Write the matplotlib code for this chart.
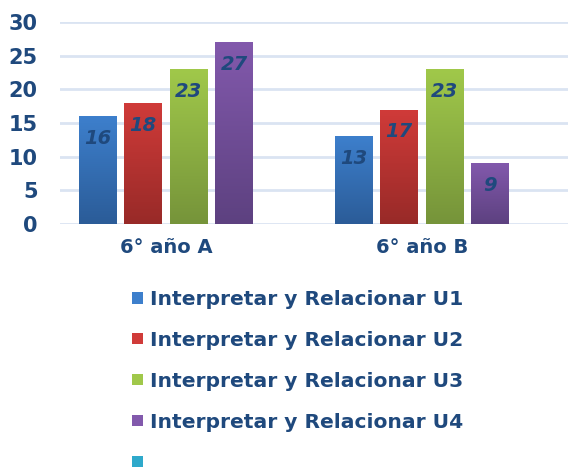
import numpy as np
import matplotlib.pyplot as plt
from matplotlib.patches import Patch
from matplotlib.colors import LinearSegmentedColormap

# --- data ---
groups = ["6° año A", "6° año B"]
series = [
    "Interpretar y Relacionar U1",
    "Interpretar y Relacionar U2",
    "Interpretar y Relacionar U3",
    "Interpretar y Relacionar U4",
]
u1 = [16, 13]
u2 = [18, 17]
u3 = [23, 23]
u4 = [27, 9]
values = [u1, u2, u3, u4]

# top / bottom colours of the gradient
top_cols = ["#3d7fcc", "#d03b39", "#a0c84a", "#8259ac"]
bot_cols = ["#2b5c98", "#982a28", "#76943a", "#5d4180"]
extra_col = "#2ea9cb"
txt_col = "#1f497d"
grid_col = "#dae4f2"

fig = plt.figure(figsize=(5.68, 4.75), dpi=100)
ax = fig.add_axes([60 / 568, 1 - 224 / 475, 1 - 60 / 568, (224 - 22) / 475])

x = np.arange(len(groups))
width = 0.148
step = 0.178
offsets = (np.arange(len(series)) - 1.5) * step

for i, vals in enumerate(values):
    cmap = LinearSegmentedColormap.from_list("g%d" % i, [bot_cols[i], top_cols[i]])
    bars = ax.bar(x + offsets[i], vals, width, color=top_cols[i], zorder=3)
    for b, v in zip(bars, vals):
        bx, bw, bh = b.get_x(), b.get_width(), b.get_height()
        grad = np.linspace(0, 1, 100).reshape(-1, 1)
        im = ax.imshow(grad, cmap=cmap, origin="lower", aspect="auto",
                       extent=[bx, bx + bw, 0, bh], zorder=3.5)
        im.set_clip_path(b)
        ax.text(bx + bw / 2, bh - 3.3, str(v), ha="center", va="center",
                fontsize=14, fontweight="heavy", style="italic", color=txt_col,
                zorder=5)

ax.set_xlim(-0.414, 1.57)
ax.set_ylim(0, 30)
ax.set_yticks(range(0, 31, 5))
ax.set_xticks(x)
ax.set_xticklabels(groups)
for s in ax.spines.values():
    s.set_visible(False)
ax.grid(axis="y", color=grid_col, linewidth=2, zorder=0)
ax.tick_params(length=0, labelsize=15, labelcolor=txt_col)
ax.tick_params(axis="y", pad=16)
ax.tick_params(axis="x", pad=10, labelsize=14)
for lab in ax.get_xticklabels() + ax.get_yticklabels():
    lab.set_fontweight("heavy")

handles = [Patch(facecolor=c) for c in top_cols] + [Patch(facecolor=extra_col)]
labels = series + [""]
leg = fig.legend(handles, labels, loc="upper left", bbox_to_anchor=(0.201, 0.428),
                 frameon=False, handlelength=0.5, handleheight=0.5,
                 handletextpad=0.35, labelspacing=1.08,
                 prop={"size": 14.6, "weight": "heavy"})
for t in leg.get_texts():
    t.set_color(txt_col)

fig.savefig("out.png", dpi=100)
